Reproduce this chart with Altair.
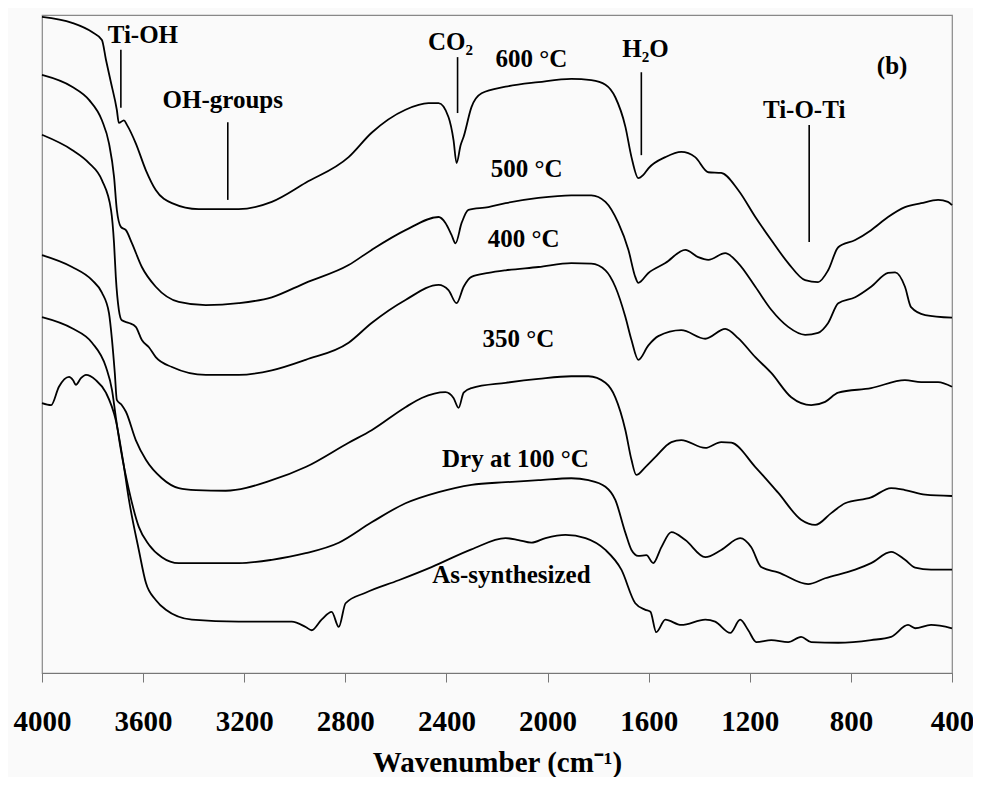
import altair as alt
import pandas as pd

# ---- Spectra (wavenumber in cm-1, transmittance in arbitrary units, offset) ----
wn_600 = [4000, 3881, 3802, 3763, 3747, 3727, 3704, 3696, 3676, 3664, 3629, 3589, 3550, 3486, 3380, 3222,
          3091, 2957, 2787, 2696, 2562, 2471, 2431, 2392, 2372, 2360, 2344, 2332, 2301, 2261, 2166, 2036,
          1906, 1827, 1771, 1732, 1692, 1668, 1641, 1621, 1601, 1534, 1471, 1416, 1364, 1313, 1246, 1178,
          1115, 1048, 981, 930, 890, 850, 783, 720, 653, 586, 522, 455, 416, 400]
t_600 = [99.7, 98.8, 97.4, 96.2, 93.2, 89.7, 85.6, 83.6, 84.0, 83.3, 80.5, 76.4, 73.4, 71.4, 70.5, 70.5,
         71.6, 74.5, 78.4, 82.1, 85.6, 86.6, 86.6, 84.5, 81.0, 77.5, 80.2, 81.5, 86.0, 88.1, 89.1, 89.8,
         90.3, 90.1, 89.4, 87.5, 83.0, 78.4, 75.2, 75.7, 76.7, 78.4, 79.2, 78.4, 76.1, 76.0, 73.4, 69.3,
         65.8, 62.3, 59.7, 59.4, 61.2, 64.7, 65.8, 67.3, 69.3, 70.8, 71.4, 71.9, 71.6, 71.1]

wn_500 = [4000, 3881, 3814, 3763, 3735, 3715, 3704, 3688, 3668, 3644, 3605, 3550, 3459, 3352, 3222, 3091,
          2957, 2787, 2696, 2562, 2431, 2404, 2380, 2364, 2340, 2313, 2234, 2166, 2036, 1906, 1827, 1771,
          1720, 1680, 1653, 1641, 1601, 1534, 1455, 1404, 1364, 1297, 1246, 1178, 1115, 1048, 981, 930,
          890, 850, 783, 720, 653, 625, 586, 562, 506, 400]
t_500 = [90.9, 89.1, 87.1, 84.0, 80.5, 75.4, 70.4, 67.8, 67.3, 65.3, 61.7, 58.7, 56.4, 55.9, 56.2, 57.1,
         59.3, 62.0, 64.3, 67.3, 69.3, 68.4, 66.6, 65.3, 68.4, 70.4, 70.8, 71.4, 72.2, 72.6, 72.6, 71.6,
         68.4, 64.3, 60.2, 59.3, 60.8, 62.3, 64.3, 63.2, 62.8, 63.8, 62.3, 58.7, 55.2, 52.6, 51.4, 51.7,
         53.2, 56.2, 57.1, 58.7, 60.8, 60.9, 58.7, 55.6, 54.4, 54.0]

wn_400 = [4000, 3881, 3814, 3763, 3727, 3715, 3708, 3696, 3684, 3656, 3629, 3605, 3577, 3550, 3486, 3352,
          3222, 3091, 2957, 2787, 2696, 2562, 2431, 2392, 2360, 2332, 2301, 2234, 2166, 2036, 1906, 1827,
          1771, 1732, 1692, 1668, 1641, 1601, 1562, 1471, 1376, 1297, 1246, 1178, 1115, 1036, 957, 902,
          850, 720, 586, 522, 455, 400]
t_400 = [81.8, 79.5, 77.5, 74.9, 70.4, 65.3, 60.2, 55.2, 53.6, 53.2, 52.6, 50.6, 49.5, 48.0, 46.5, 45.3,
         45.3, 46.0, 47.6, 50.2, 53.2, 56.7, 59.0, 58.2, 56.2, 58.7, 60.2, 60.8, 61.2, 61.7, 62.3, 62.2,
         61.2, 58.7, 54.1, 50.6, 47.6, 49.8, 51.2, 52.1, 50.8, 52.3, 50.9, 48.0, 45.6, 41.9, 40.7, 41.2,
         42.6, 43.3, 44.5, 44.2, 44.2, 43.5]

wn_350 = [4000, 3881, 3802, 3763, 3735, 3723, 3712, 3704, 3684, 3668, 3629, 3589, 3526, 3459, 3391, 3273,
          3091, 2957, 2787, 2696, 2562, 2498, 2404, 2372, 2352, 2332, 2301, 2166, 2036, 1906, 1838, 1771,
          1732, 1692, 1668, 1649, 1613, 1574, 1510, 1471, 1376, 1313, 1273, 1178, 1088, 997, 941, 878,
          823, 720, 641, 586, 506, 400]
t_350 = [63.5, 61.7, 59.7, 57.8, 54.7, 50.6, 45.6, 41.5, 40.7, 39.7, 35.4, 32.4, 29.6, 28.1, 27.8, 27.7,
         29.3, 31.3, 35.0, 36.9, 40.4, 41.8, 42.7, 41.8, 40.3, 42.6, 43.3, 44.1, 44.7, 45.1, 45.1, 44.1,
         41.9, 36.9, 32.4, 30.1, 31.3, 32.8, 35.1, 35.4, 34.2, 35.1, 35.0, 31.3, 27.4, 23.3, 22.5, 24.3,
         25.8, 26.7, 28.1, 27.8, 27.1, 26.9]

wn_100 = [4000, 3881, 3802, 3747, 3723, 3708, 3688, 3656, 3617, 3577, 3526, 3459, 3222, 3091, 2957, 2826,
          2696, 2562, 2431, 2301, 2166, 2036, 1906, 1838, 1771, 1732, 1692, 1668, 1641, 1609, 1582, 1550,
          1510, 1455, 1376, 1313, 1238, 1194, 1155, 1088, 969, 902, 783, 720, 641, 586, 546, 483, 400]
t_100 = [54.1, 52.4, 50.2, 46.5, 43.0, 38.9, 33.9, 27.8, 22.2, 19.5, 17.6, 16.7, 16.7, 17.2, 18.2, 19.8,
         22.9, 25.8, 27.5, 28.6, 29.0, 29.3, 29.6, 29.3, 28.3, 26.3, 21.3, 18.7, 17.8, 17.9, 16.7, 19.1,
         21.4, 20.2, 17.6, 18.7, 20.5, 19.1, 16.1, 15.3, 13.5, 14.4, 15.7, 16.7, 18.4, 17.2, 16.0, 15.7, 15.7]

wn_as = [4000, 3964, 3933, 3893, 3877, 3866, 3846, 3826, 3787, 3747, 3708, 3680, 3656, 3617, 3589, 3550,
         3510, 3407, 3222, 3012, 2957, 2933, 2894, 2854, 2826, 2799, 2720, 2589, 2459, 2301, 2166, 2115,
         2064, 2008, 1929, 1850, 1771, 1708, 1653, 1613, 1593, 1570, 1534, 1471, 1376, 1337, 1277, 1238,
         1206, 1174, 1115, 1048, 997, 957, 850, 720, 641, 574, 546, 483, 400]
t_as = [41.0, 40.7, 43.5, 45.0, 44.5, 43.8, 44.8, 45.3, 44.5, 42.6, 38.4, 32.4, 26.3, 18.7, 13.7, 11.1,
        9.6, 8.1, 7.8, 7.8, 7.0, 6.5, 8.1, 9.3, 7.0, 10.6, 12.2, 14.1, 16.1, 18.8, 20.5, 20.2,
        19.8, 20.5, 21.0, 20.5, 18.7, 15.7, 10.6, 9.6, 9.3, 6.2, 8.1, 7.3, 8.1, 7.8, 6.1, 8.1,
        6.5, 4.7, 5.0, 4.7, 5.5, 4.7, 4.6, 5.0, 5.5, 7.3, 6.8, 7.3, 6.8]

series = {
    "600 °C": (wn_600, t_600),
    "500 °C": (wn_500, t_500),
    "400 °C": (wn_400, t_400),
    "350 °C": (wn_350, t_350),
    "Dry at 100 °C": (wn_100, t_100),
    "As-synthesized": (wn_as, t_as),
}

# ---- Labels and band annotations ----
label_text = ["600 °C", "500 °C", "400 °C", "350 °C", "Dry at 100 °C", "As-synthesized",
              "Ti-OH", "OH-groups", "CO₂", "H₂O", "Ti-O-Ti", "(b)"]
label_wn = [2064, 2083, 2095, 2115, 2127, 2143, 3601, 3285, 2384, 1613, 985, 637]
label_t = [92.1, 75.4, 64.7, 49.5, 31.3, 13.7, 95.7, 85.9, 94.7, 93.6, 84.3, 91.0]

marker_wn = [3688, 3265, 2356, 1629, 965]
marker_top = [94.7, 83.7, 93.6, 91.3, 83.3]
marker_bottom = [85.9, 71.9, 85.1, 78.7, 65.5]

x_ticks = [4000, 3600, 3200, 2800, 2400, 2000, 1600, 1200, 800, 400]

rows = []
for name, (wns, ts) in series.items():
    for i, (w, t) in enumerate(zip(wns, ts)):
        rows.append({"series": name, "idx": i, "wn": w, "t": t})
spec_df = pd.DataFrame(rows)
label_df = pd.DataFrame({"text": label_text, "wn": label_wn, "t": label_t})
marker_df = pd.DataFrame({"wn": marker_wn, "top": marker_top, "bottom": marker_bottom})

FONT = "Liberation Serif"

x_scale = alt.Scale(domain=[400, 4000], reverse=True, nice=False, zero=False)
y_scale = alt.Scale(domain=[0, 100], nice=False, zero=False)

lines = alt.Chart(spec_df).mark_line(color="black", strokeWidth=1.8, interpolate="monotone").encode(
    x=alt.X("wn:Q", scale=x_scale,
            axis=alt.Axis(values=x_ticks, format="d", title="Wavenumber (cm⁻¹)",
                          labelFont=FONT, labelFontSize=29, labelFontWeight="bold", labelColor="black",
                          labelPadding=25, tickSize=9, tickColor="#777", domainColor="#777",
                          labelFlush=False, labelOverlap=False, grid=False,
                          titleFont=FONT, titleFontSize=29, titleFontWeight="bold", titleColor="black",
                          titleBaseline="alphabetic", titleY=98)),
    y=alt.Y("t:Q", scale=y_scale, axis=None),
    detail="series:N",
    order="idx:Q",
)

rules = alt.Chart(marker_df).mark_rule(color="black", strokeWidth=1.6).encode(
    x=alt.X("wn:Q", scale=x_scale),
    y=alt.Y("top:Q", scale=y_scale),
    y2="bottom:Q",
)

texts = alt.Chart(label_df).mark_text(
    font=FONT, fontSize=25, fontWeight="bold", color="black", align="center", baseline="alphabetic"
).encode(
    x=alt.X("wn:Q", scale=x_scale),
    y=alt.Y("t:Q", scale=y_scale),
    text="text:N",
)

chart = alt.layer(lines, rules, texts).properties(
    width=910, height=658,
    autosize=alt.AutoSizeParams(type="none"),
    padding={"left": 34, "top": 7, "right": 21, "bottom": 104},
    background="#fafafa",
).configure_view(stroke="#888", strokeWidth=1.2)

chart.save("out.html", embed_options={"renderer": "svg", "actions": False})
